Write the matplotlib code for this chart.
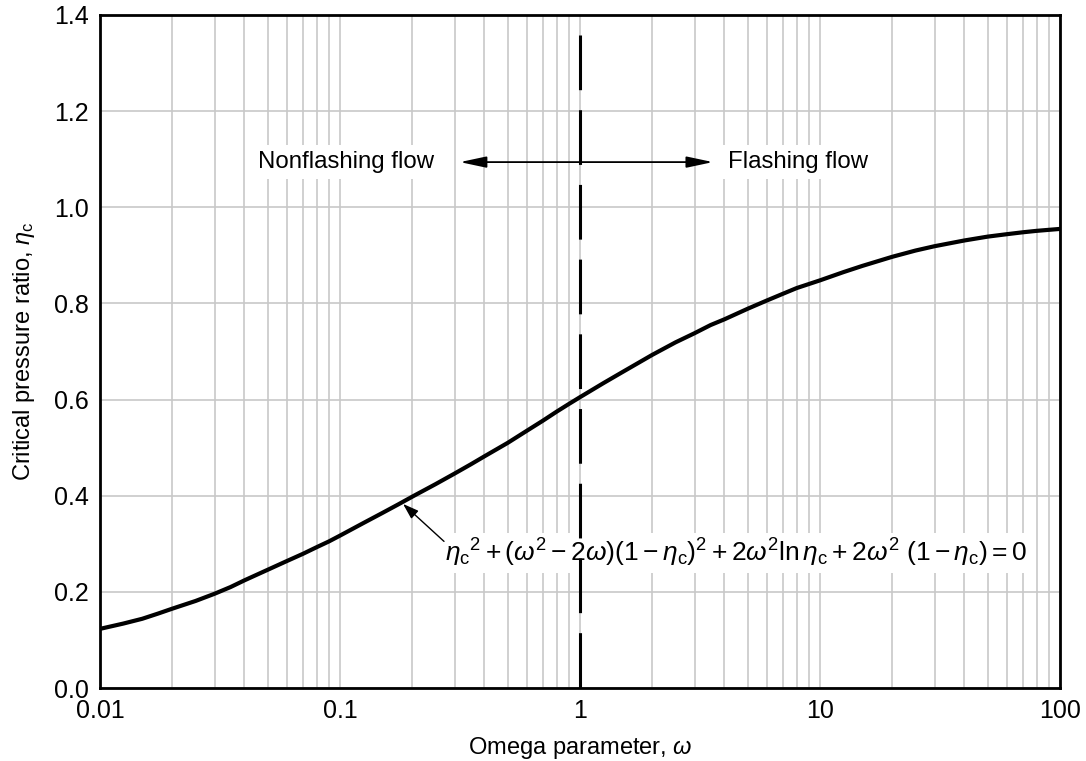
import matplotlib
matplotlib.use("Agg")
import matplotlib.pyplot as plt
from matplotlib.ticker import LogLocator, FixedLocator, NullFormatter

plt.rcParams['font.family'] = ['Liberation Sans', 'DejaVu Sans']
plt.rcParams['mathtext.fontset'] = 'custom'
plt.rcParams['mathtext.rm'] = 'Liberation Sans'
plt.rcParams['mathtext.it'] = 'Liberation Sans:italic'
plt.rcParams['mathtext.bf'] = 'Liberation Sans:bold'

# Data
omega = [0.01, 0.0125, 0.015, 0.0175, 0.02, 0.025, 0.03, 0.035, 0.04, 0.05, 0.06,
         0.07, 0.08, 0.09, 0.1, 0.125, 0.15, 0.175, 0.2, 0.25, 0.3, 0.35, 0.4, 0.5,
         0.6, 0.7, 0.8, 0.9, 1.0, 1.25, 1.5, 2.0, 2.5, 3.0, 3.5, 4.0, 5.0, 6.0, 7.0,
         8.0, 10.0, 12.5, 15.0, 20.0, 25.0, 30.0, 40.0, 50.0, 60.0, 70.0, 80.0, 100.0]
eta_c = [0.123, 0.134, 0.144, 0.155, 0.165, 0.181, 0.196, 0.210, 0.224, 0.246, 0.264,
         0.279, 0.293, 0.305, 0.317, 0.343, 0.364, 0.382, 0.398, 0.424, 0.446, 0.465,
         0.482, 0.510, 0.535, 0.556, 0.575, 0.591, 0.605, 0.634, 0.657, 0.693, 0.719,
         0.738, 0.755, 0.767, 0.789, 0.806, 0.820, 0.832, 0.848, 0.865, 0.878, 0.897,
         0.910, 0.919, 0.931, 0.939, 0.944, 0.948, 0.951, 0.955]

x_ticks = [0.01, 0.1, 1, 10, 100]
x_ticklabels = ['0.01', '0.1', '1', '10', '100']
y_ticks = [0.0, 0.2, 0.4, 0.6, 0.8, 1.0, 1.2, 1.4]
y_ticklabels = ['0.0', '0.2', '0.4', '0.6', '0.8', '1.0', '1.2', '1.4']

boundary_omega = 1.0
label_left = 'Nonflashing flow'
label_right = 'Flashing flow'
equation = (r'$\eta_{\mathrm{c}}{}^2 + (\omega^2 - 2\omega)(1 - \eta_{\mathrm{c}})^2'
            r' + 2\omega^2\mathrm{ln}\,\eta_{\mathrm{c}} + 2\omega^2\ (1 - \eta_{\mathrm{c}}) = 0$')

fig = plt.figure(figsize=(10.86, 7.61), dpi=100)
ax = fig.add_axes([100/1086, 73/761, 960/1086, 673/761])

ax.set_xscale('log')
ax.set_xlim(0.01, 100)
ax.set_ylim(0, 1.4)

grid_c = '#c8c8c8'
ax.xaxis.set_major_locator(FixedLocator(x_ticks))
ax.set_xticklabels(x_ticklabels)
ax.xaxis.set_minor_locator(LogLocator(base=10, subs=range(2, 10), numticks=20))
ax.xaxis.set_minor_formatter(NullFormatter())
ax.set_yticks(y_ticks)
ax.set_yticklabels(y_ticklabels)
ax.grid(True, which='major', axis='both', color=grid_c, lw=1.2, zorder=0)
ax.grid(True, which='minor', axis='x', color=grid_c, lw=1.2, zorder=0)
ax.set_axisbelow(True)
ax.tick_params(axis='both', which='both', length=0, labelsize=18, pad=8)

for s in ax.spines.values():
    s.set_linewidth(2.0)
    s.set_color('black')

# Main curve
ax.plot(omega, eta_c, color='black', lw=3.0, zorder=3, solid_capstyle='butt')

# Boundary dashed line (drawn top to bottom so the pattern starts at the top)
ax.plot([boundary_omega, boundary_omega], [1.358, 0], color='black', lw=2.2,
        linestyle=(0, (17.9, 6.55)), zorder=3)

# Flow-regime arrows and labels
y_arr = 1.094
astyle = '-|>,head_length=0.8,head_width=0.17'
ax.annotate('', xy=(0.316, y_arr), xytext=(boundary_omega, y_arr),
            arrowprops=dict(arrowstyle=astyle, color='black', lw=1.3,
                            mutation_scale=20, shrinkA=0, shrinkB=0), zorder=4)
ax.annotate('', xy=(3.58, y_arr), xytext=(boundary_omega, y_arr),
            arrowprops=dict(arrowstyle=astyle, color='black', lw=1.3,
                            mutation_scale=20, shrinkA=0, shrinkB=0), zorder=4)
bbox = dict(boxstyle='square,pad=0.25', fc='white', ec='none')
ax.text(10**((346 - 100)/240 - 2), y_arr, label_left, ha='center', va='center',
        fontsize=17.3, bbox=bbox, zorder=2)
ax.text(10**((728 - 100)/240 - 2), y_arr, label_right, ha='left', va='center',
        fontsize=17.3, bbox=bbox, zorder=2)

# Equation with arrow
ax.annotate('', xy=(10**(303/240 - 2), 0.383), xytext=(10**(344/240 - 2), 0.305),
            arrowprops=dict(arrowstyle='-|>,head_length=0.6,head_width=0.2',
                            color='black', lw=1.0,
                            mutation_scale=16, shrinkA=0, shrinkB=0), zorder=4)
ax.text(10**(345/240 - 2), 0.28, equation, ha='left', va='center', fontsize=19,
        bbox=dict(boxstyle='square,pad=0.15', fc='white', ec='none'), zorder=2)

ax.set_xlabel(r'Omega parameter, $\omega$', fontsize=17)
ax.xaxis.set_label_coords(0.5, -0.07)
ax.set_ylabel(r'Critical pressure ratio, $\eta_{\mathrm{c}}$', fontsize=17, labelpad=12)

fig.savefig('out.png', dpi=100)
